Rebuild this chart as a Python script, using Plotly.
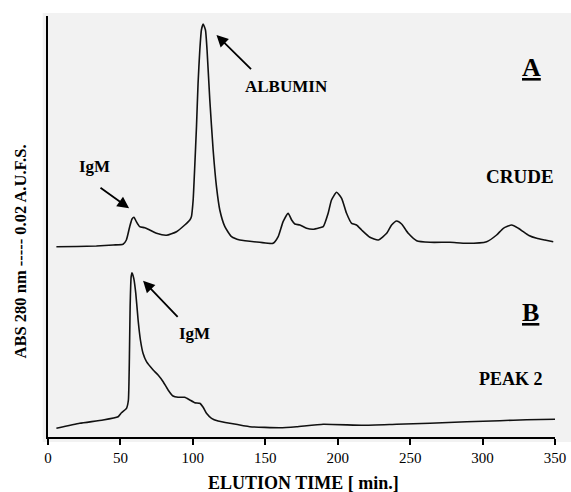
import plotly.graph_objects as go

# ---- data (elution time in min, absorbance in arbitrary units) ----
crude_time = [5.8, 20, 33.4, 45, 51.8, 54.1, 56.4, 58, 59.4, 61, 63.3, 66.8, 70.2, 74.9, 81.8, 88.7,
              94.4, 97.9, 99, 100.2, 101.3, 102.5, 103.6, 104.8, 105.9, 107.1, 108.7, 109.8, 111.7,
              114, 116.3, 118.6, 122.1, 126.7, 132.4, 146.2, 155.4, 158.9, 162.3, 165.8, 168.2,
              170.4, 173.9, 178.5, 183, 187.7, 190, 193.4, 195.7, 199.2, 202.7, 206.1, 209.6, 213,
              216.5, 222.2, 228, 233.8, 237.2, 240.7, 244.1, 248.7, 254.5, 263.7, 277.5, 289,
              302.8, 309.7, 314.3, 320.1, 324.7, 328.1, 332, 337.4, 343, 348.8]
crude_abs = [190.3, 190.5, 191, 192, 192.7, 197, 210.3, 218, 219.7, 215.3, 210.3, 209.3, 207, 203.7,
             201.7, 205.3, 212, 217, 220.3, 237, 270.3, 310.3, 353.7, 387, 407, 413, 407, 387, 337,
             287, 250.3, 227, 210.3, 200.3, 197, 194.7, 193.7, 200.3, 215.3, 223.7, 217, 213, 212,
             208.7, 207.7, 209.3, 210.3, 223.7, 237, 244.7, 238.7, 223.7, 213.7, 212, 207, 199.7,
             197, 203.7, 212, 216, 213, 203.7, 196.3, 194.7, 194.7, 193.7, 195.3, 202, 208.7, 212,
             208.7, 205.3, 201.5, 198.7, 197, 195.3]

peak2_time = [5.8, 21.9, 38, 48.4, 50.7, 54.2, 55.5, 56.2, 56.7, 57.4, 58, 59.2, 60.6, 62.2, 63.8,
              65.6, 68, 72.6, 76, 79.5, 82.9, 86.3, 89.8, 94.4, 97.9, 101.3, 104.8, 107.1, 109.4,
              112.9, 117.4, 125.5, 139.3, 160, 171.6, 190, 217.6, 240.6, 263.7, 289, 312, 330.4, 350]
peak2_abs = [8.7, 13.7, 17, 20.3, 24.3, 28.7, 37, 80.3, 130.3, 160.3, 164.3, 158.7, 143.7, 117, 97,
             83.7, 75.3, 67, 62, 55.3, 47, 41, 39.7, 39.7, 37, 34.3, 33.7, 29.7, 23.7, 18.7, 16,
             13.7, 10.3, 9.3, 10.3, 12.7, 11.7, 12.7, 13.7, 15.3, 16.3, 17.3, 17.7]

x_ticks = [0, 50, 100, 150, 200, 250, 300, 350]

SERIF = "Liberation Serif, Times New Roman, serif"

fig = go.Figure()
fig.add_trace(go.Scatter(x=crude_time, y=crude_abs, mode="lines",
                         line=dict(color="#111111", width=1.6, shape="spline", smoothing=0.5),
                         showlegend=False, hoverinfo="skip"))
fig.add_trace(go.Scatter(x=peak2_time, y=peak2_abs, mode="lines",
                         line=dict(color="#111111", width=1.6, shape="spline", smoothing=0.4),
                         showlegend=False, hoverinfo="skip"))

# textured background approximation
fig.add_shape(type="rect", xref="paper", yref="paper", x0=-0.0105, x1=1.032, y0=-0.012, y1=1.007,
              fillcolor="#f2f2f2", line=dict(width=0), layer="below")

ann = []
def label(text, x, y, size):
    ann.append(dict(text=text, x=x, y=y, xref="x", yref="y", showarrow=False,
                    font=dict(family=SERIF, size=size, color="black"), xanchor="center", yanchor="middle"))

def arrow(hx, hy, tx, ty):
    ann.append(dict(text="", x=hx, y=hy, ax=tx, ay=ty, xref="x", yref="y", axref="x", ayref="y",
                    showarrow=True, arrowhead=2, arrowsize=1.3, arrowwidth=1.8, arrowcolor="black"))

label("<b><u>A</u></b>", 334.1, 370, 26)
label("<b><u>B</u></b>", 333.1, 125, 26)
label("<b>CRUDE</b>", 325.5, 260.7, 19)
label("<b>PEAK 2</b>", 319.6, 58, 18)
label("<b>ALBUMIN</b>", 164.9, 351, 17)
label("<b>IgM</b>", 32.3, 271, 17)
label("<b>IgM</b>", 101.4, 104, 17)
arrow(116.3, 402, 141.2, 366.3)
arrow(56, 228.7, 35.2, 250.3)
arrow(65.6, 156.3, 90.5, 118.7)

ann.append(dict(text="<b>ELUTION TIME [ min.]</b>", x=0.504, y=-0.109, xref="paper", yref="paper",
                showarrow=False, font=dict(family=SERIF, size=18, color="black"),
                xanchor="center", yanchor="middle"))
ann.append(dict(text="<b>ABS 280 nm ----- 0.02 A.U.F.S.</b>", x=-0.054, y=0.44, xref="paper",
                yref="paper", showarrow=False, textangle=-90,
                font=dict(family=SERIF, size=16.5, color="black"), xanchor="center", yanchor="middle"))

fig.update_layout(
    template="none",
    width=571, height=492, autosize=False,
    margin=dict(l=48, r=16, t=16, b=55, pad=0),
    paper_bgcolor="white", plot_bgcolor="rgba(0,0,0,0)",
    annotations=ann,
    xaxis=dict(range=[0, 350], tickmode="array", tickvals=x_ticks, ticktext=[str(v) for v in x_ticks],
               automargin=False,
               showgrid=False, zeroline=False, showline=True, linecolor="black", linewidth=2,
               ticks="outside", ticklen=6, tickwidth=1.5, tickcolor="black",
               tickfont=dict(family=SERIF, size=15, color="black")),
    yaxis=dict(range=[0, 421], automargin=False, showgrid=False, zeroline=False, showline=True,
               linecolor="black", linewidth=2, showticklabels=False, ticks=""),
)

fig.write_html("out.html", config={"responsive": False, "displayModeBar": False},
               post_script="document.body.style.margin='0';")
